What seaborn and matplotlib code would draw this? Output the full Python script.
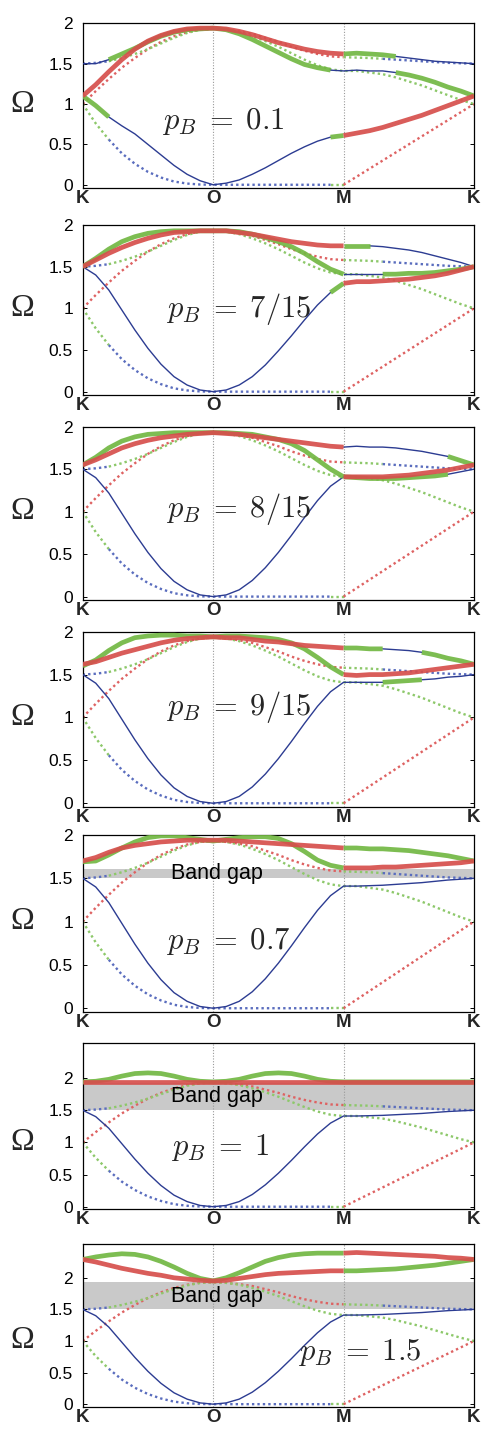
import numpy as np
import matplotlib
matplotlib.use("Agg")
import matplotlib.pyplot as plt
import matplotlib.transforms as mtransforms
import seaborn as sns

# ── k-path (K -> O -> M -> K) ───────────────────────────────────
K_PATH = np.array([0.0, 0.1, 0.2, 0.3, 0.4, 0.5, 0.6, 0.7, 0.8, 0.9, 1.0,
                   1.1, 1.2, 1.3, 1.4, 1.5, 1.6, 1.7, 1.8, 1.9, 2.0,
                   2.1, 2.2, 2.3, 2.4, 2.5, 2.6, 2.7, 2.8, 2.9, 3.0])
TICK_POS = [0, 1, 2, 3]
TICK_LABELS = ["K", "O", "M", "K"]
Y_TICKS = [0, 0.5, 1, 1.5, 2]
Y_TICK_LABELS = ["0", "0.5", "1", "1.5", "2"]

# ── free (dotted) bands, same in every panel ─────────────────────
FREE_LOW = [1.0, 0.76, 0.56, 0.39, 0.26, 0.16, 0.09, 0.04, 0.015, 0.003, 0.0,
            0.0, 0.0, 0.0, 0.0, 0.0, 0.0, 0.0, 0.0, 0.0, 0.0,
            0.1, 0.2, 0.3, 0.4, 0.5, 0.6, 0.7, 0.8, 0.9, 1.0]
FREE_LOW_RUNS = [("g", 0.0, 0.2), ("b", 0.2, 1.9), ("g", 1.9, 2.0), ("r", 2.0, 3.0)]
FREE_MID = [1.0, 1.16, 1.31, 1.45, 1.57, 1.68, 1.77, 1.84, 1.89, 1.92, 1.93,
            1.92, 1.90, 1.87, 1.82, 1.77, 1.71, 1.66, 1.62, 1.59, 1.58,
            1.575, 1.57, 1.56, 1.55, 1.54, 1.53, 1.52, 1.51, 1.505, 1.5]
FREE_MID_RUNS = [("r", 0.0, 2.0), ("g", 2.0, 2.3), ("b", 2.3, 3.0)]
FREE_TOP = [1.5, 1.51, 1.53, 1.57, 1.62, 1.68, 1.75, 1.82, 1.88, 1.92, 1.93,
            1.92, 1.89, 1.84, 1.78, 1.71, 1.63, 1.55, 1.48, 1.43, 1.41,
            1.41, 1.39, 1.37, 1.33, 1.28, 1.23, 1.17, 1.11, 1.05, 1.0]
FREE_TOP_RUNS = [("b", 0.0, 0.2), ("g", 0.2, 3.0)]

# shared pieces of the lowest solid band
LOW_KO = [1.5, 1.4, 1.22, 0.98, 0.74, 0.52, 0.33, 0.18, 0.08, 0.02, 0.0]
LOW_OM = [0.02, 0.08, 0.19, 0.34, 0.52, 0.72, 0.93, 1.13, 1.3, 1.41]
LOW_MK = [1.41, 1.415, 1.42, 1.43, 1.44, 1.45, 1.465, 1.48, 1.49, 1.5]

# ── p_B = 0.1 ────────────────────────────────────────────────────
P1_A = [1.1, 0.98, 0.84, 0.73, 0.63, 0.5, 0.37, 0.24, 0.13, 0.05, 0.0,
        0.02, 0.06, 0.13, 0.21, 0.3, 0.39, 0.47, 0.54, 0.59, 0.61,
        0.64, 0.67, 0.71, 0.76, 0.81, 0.86, 0.92, 0.98, 1.04, 1.1]
P1_A_RUNS = [("g", 0.0, 0.2), ("b", 0.2, 1.9), ("g", 1.9, 2.0), ("r", 2.0, 3.0)]
P1_B = [1.1, 1.24, 1.40, 1.55, 1.68, 1.78, 1.85, 1.9, 1.93, 1.94, 1.94,
        1.93, 1.9, 1.86, 1.81, 1.76, 1.72, 1.68, 1.65, 1.63, 1.62,
        1.63, 1.62, 1.61, 1.59, 1.57, 1.55, 1.53, 1.52, 1.51, 1.5]
P1_B_RUNS = [("r", 0.0, 2.0), ("g", 2.0, 2.4), ("b", 2.4, 3.0)]
P1_C = [1.5, 1.5, 1.55, 1.62, 1.69, 1.77, 1.84, 1.89, 1.92, 1.93, 1.94,
        1.92, 1.87, 1.8, 1.72, 1.64, 1.56, 1.49, 1.45, 1.42, 1.41,
        1.42, 1.41, 1.41, 1.39, 1.36, 1.32, 1.27, 1.21, 1.16, 1.1]
P1_C_RUNS = [("b", 0.0, 0.2), ("g", 0.2, 1.9), ("b", 1.9, 2.4), ("g", 2.4, 3.0)]

# ── p_B = 7/15 ───────────────────────────────────────────────────
P2_A = LOW_KO + [0.02, 0.08, 0.18, 0.32, 0.49, 0.67, 0.86, 1.04, 1.19, 1.3,
                 1.32, 1.32, 1.33, 1.34, 1.35, 1.37, 1.39, 1.42, 1.46, 1.5]
P2_A_RUNS = [("b", 0.0, 1.9), ("g", 1.9, 2.0), ("r", 2.0, 3.0)]
P2_B = [1.5, 1.58, 1.66, 1.73, 1.79, 1.84, 1.88, 1.91, 1.92, 1.93, 1.93,
        1.93, 1.91, 1.89, 1.86, 1.83, 1.8, 1.78, 1.76, 1.75, 1.75,
        1.75, 1.75, 1.74, 1.72, 1.7, 1.67, 1.63, 1.59, 1.55, 1.5]
P2_B_RUNS = [("r", 0.0, 2.0), ("g", 2.0, 2.2), ("b", 2.2, 3.0)]
P2_C = [1.5, 1.6, 1.71, 1.8, 1.86, 1.9, 1.92, 1.93, 1.93, 1.93, 1.93,
        1.93, 1.92, 1.89, 1.85, 1.8, 1.74, 1.66, 1.56, 1.47, 1.41,
        1.41, 1.41, 1.41, 1.41, 1.42, 1.42, 1.43, 1.45, 1.47, 1.5]
P2_C_RUNS = [("g", 0.0, 2.0), ("b", 2.0, 2.3), ("g", 2.3, 3.0)]

# ── p_B = 8/15 ───────────────────────────────────────────────────
P3_A = LOW_KO + LOW_OM + [1.4, 1.39, 1.39, 1.39, 1.4, 1.41, 1.42, 1.44, 1.47, 1.5]
P3_A_RUNS = [("b", 0.0, 2.0), ("g", 2.0, 2.8), ("b", 2.8, 3.0)]
P3_B = [1.55, 1.61, 1.68, 1.75, 1.8, 1.84, 1.87, 1.89, 1.91, 1.92, 1.93,
        1.92, 1.91, 1.89, 1.87, 1.85, 1.83, 1.81, 1.79, 1.77, 1.76,
        1.77, 1.76, 1.76, 1.75, 1.73, 1.71, 1.68, 1.65, 1.6, 1.55]
P3_B_RUNS = [("r", 0.0, 2.0), ("b", 2.0, 2.8), ("g", 2.8, 3.0)]
P3_C = [1.55, 1.64, 1.75, 1.83, 1.88, 1.91, 1.92, 1.93, 1.93, 1.93, 1.93,
        1.93, 1.92, 1.91, 1.88, 1.85, 1.8, 1.72, 1.61, 1.5, 1.41,
        1.41, 1.41, 1.41, 1.42, 1.43, 1.45, 1.47, 1.49, 1.52, 1.55]
P3_C_RUNS = [("g", 0.0, 2.0), ("r", 2.0, 3.0)]

# ── p_B = 9/15 ───────────────────────────────────────────────────
P4_A = LOW_KO + LOW_OM + [1.41, 1.41, 1.41, 1.42, 1.43, 1.44, 1.45, 1.47, 1.48, 1.5]
P4_A_RUNS = [("b", 0.0, 2.3), ("g", 2.3, 2.6), ("b", 2.6, 3.0)]
P4_B = [1.62, 1.65, 1.7, 1.75, 1.79, 1.83, 1.87, 1.9, 1.92, 1.93, 1.94,
        1.93, 1.93, 1.91, 1.89, 1.88, 1.86, 1.84, 1.83, 1.82, 1.81,
        1.81, 1.8, 1.8, 1.79, 1.78, 1.76, 1.73, 1.69, 1.66, 1.62]
P4_B_RUNS = [("r", 0.0, 2.0), ("g", 2.0, 2.3), ("b", 2.3, 2.6), ("g", 2.6, 3.0)]
P4_C = [1.6, 1.67, 1.78, 1.87, 1.93, 1.95, 1.96, 1.96, 1.95, 1.95, 1.94,
        1.95, 1.95, 1.94, 1.93, 1.91, 1.87, 1.8, 1.7, 1.59, 1.5,
        1.49, 1.5, 1.5, 1.51, 1.52, 1.54, 1.56, 1.58, 1.6, 1.62]
P4_C_RUNS = [("g", 0.0, 2.0), ("r", 2.0, 3.0)]

# ── p_B = 0.7 ────────────────────────────────────────────────────
P5_A = LOW_KO + LOW_OM + LOW_MK
P5_A_RUNS = [("b", 0.0, 3.0)]
P5_B = [1.7, 1.74, 1.8, 1.85, 1.88, 1.9, 1.92, 1.93, 1.94, 1.94, 1.94,
        1.94, 1.93, 1.92, 1.91, 1.9, 1.89, 1.88, 1.87, 1.86, 1.85,
        1.85, 1.84, 1.84, 1.83, 1.82, 1.8, 1.78, 1.76, 1.73, 1.7]
P5_B_RUNS = [("r", 0.0, 2.0), ("g", 2.0, 3.0)]
P5_C = [1.69, 1.7, 1.77, 1.85, 1.92, 1.97, 1.99, 1.99, 1.97, 1.95, 1.93,
        1.95, 1.97, 1.98, 1.98, 1.96, 1.9, 1.81, 1.71, 1.65, 1.62,
        1.62, 1.62, 1.63, 1.63, 1.64, 1.65, 1.66, 1.67, 1.68, 1.7]
P5_C_RUNS = [("g", 0.0, 2.0), ("r", 2.0, 3.0)]

# ── p_B = 1 ──────────────────────────────────────────────────────
P6_A = LOW_KO + LOW_OM + LOW_MK
P6_A_RUNS = [("b", 0.0, 3.0)]
P6_B = [1.94, 1.94, 1.94, 1.94, 1.94, 1.94, 1.94, 1.94, 1.94, 1.94, 1.94,
        1.94, 1.94, 1.94, 1.94, 1.94, 1.94, 1.94, 1.94, 1.94, 1.94,
        1.94, 1.94, 1.94, 1.94, 1.94, 1.94, 1.94, 1.94, 1.94, 1.94]
P6_B_RUNS = [("r", 0.0, 3.0)]
P6_C = [1.94, 1.95, 1.98, 2.03, 2.07, 2.08, 2.07, 2.03, 1.98, 1.95, 1.94,
        1.95, 1.98, 2.03, 2.07, 2.08, 2.07, 2.03, 1.98, 1.95, 1.94,
        1.94, 1.94, 1.94, 1.94, 1.94, 1.94, 1.94, 1.94, 1.94, 1.94]
P6_C_RUNS = [("g", 0.0, 3.0)]

# ── p_B = 1.5 ────────────────────────────────────────────────────
P7_A = LOW_KO + LOW_OM + LOW_MK
P7_A_RUNS = [("b", 0.0, 3.0)]
P7_B = [2.29, 2.25, 2.2, 2.15, 2.11, 2.07, 2.04, 2.0, 1.98, 1.96, 1.95,
        1.96, 1.99, 2.02, 2.05, 2.07, 2.08, 2.09, 2.1, 2.11, 2.11,
        2.11, 2.12, 2.13, 2.14, 2.16, 2.18, 2.2, 2.23, 2.26, 2.29]
P7_B_RUNS = [("r", 0.0, 2.0), ("g", 2.0, 3.0)]
P7_C = [2.29, 2.33, 2.36, 2.38, 2.37, 2.33, 2.26, 2.17, 2.07, 1.99, 1.95,
        2.0, 2.08, 2.17, 2.26, 2.32, 2.36, 2.38, 2.39, 2.39, 2.39,
        2.4, 2.39, 2.38, 2.37, 2.36, 2.35, 2.34, 2.32, 2.31, 2.29]
P7_C_RUNS = [("g", 0.0, 2.0), ("r", 2.0, 3.0)]

# panel annotations
PB_LABELS = [r"$p_B\;=\;0.1$", r"$p_B\;=\;7/15$", r"$p_B\;=\;8/15$",
             r"$p_B\;=\;9/15$", r"$p_B\;=\;0.7$", r"$p_B\;=\;1$",
             r"$p_B\;=\;1.5$"]
GAPS = [None, None, None, None, (1.50, 1.61), (1.50, 1.92), (1.50, 1.94)]

# ── style ────────────────────────────────────────────────────────
SOLID = {"b": "#2c3c92", "g": "#72b843", "r": "#d64f4c"}
DOTTED = {"b": "#5a6dbe", "g": "#8dc86a", "r": "#de6262"}
FIG_W, FIG_H = 483, 1429
AX_LEFT, AX_RIGHT = 82.7, 474.0
# (top px, bottom px, ymax, label x, label y, gap text y)
PANEL_GEOM = [
    (23.3, 188.0, 2.00, 0.61, 0.78, None),
    (225.0, 395.0, 2.00, 0.64, 0.99, None),
    (426.7, 600.0, 2.00, 0.64, 1.03, None),
    (631.7, 806.7, 2.00, 0.64, 1.12, None),
    (835.0, 1011.7, 2.00, 0.64, 0.77, 1.56),
    (1043.3, 1209.3, 2.54, 0.68, 0.92, 1.71),
    (1244.3, 1406.7, 2.53, 1.65, 0.82, 1.71),
]
PANELS = [
    [(P1_A, P1_A_RUNS), (P1_B, P1_B_RUNS), (P1_C, P1_C_RUNS)],
    [(P2_A, P2_A_RUNS), (P2_B, P2_B_RUNS), (P2_C, P2_C_RUNS)],
    [(P3_A, P3_A_RUNS), (P3_B, P3_B_RUNS), (P3_C, P3_C_RUNS)],
    [(P4_A, P4_A_RUNS), (P4_B, P4_B_RUNS), (P4_C, P4_C_RUNS)],
    [(P5_A, P5_A_RUNS), (P5_B, P5_B_RUNS), (P5_C, P5_C_RUNS)],
    [(P6_A, P6_A_RUNS), (P6_B, P6_B_RUNS), (P6_C, P6_C_RUNS)],
    [(P7_A, P7_A_RUNS), (P7_B, P7_B_RUNS), (P7_C, P7_C_RUNS)],
]
FREE = [(FREE_LOW, FREE_LOW_RUNS), (FREE_MID, FREE_MID_RUNS), (FREE_TOP, FREE_TOP_RUNS)]

sns.set_theme(style="ticks")
plt.rcParams["font.family"] = ["Liberation Sans", "DejaVu Sans"]
plt.rcParams["mathtext.fontset"] = "cm"


def draw_runs(ax, values, runs, dotted=False):
    values = np.asarray(values, dtype=float)
    for key, a, b in runs:
        mask = (K_PATH >= a - 1e-6) & (K_PATH <= b + 1e-6)
        if dotted:
            sns.lineplot(x=K_PATH[mask], y=values[mask], ax=ax, color=DOTTED[key],
                         lw=1.7, linestyle=(0, (1.0, 1.3)), sort=False,
                         estimator=None, legend=False, zorder=2)
        elif key == "b":
            sns.lineplot(x=K_PATH[mask], y=values[mask], ax=ax, color=SOLID[key],
                         lw=1.0, sort=False, estimator=None, legend=False, zorder=3)
        else:
            sns.lineplot(x=K_PATH[mask], y=values[mask], ax=ax, color=SOLID[key],
                         lw=3.4, alpha=0.92, solid_capstyle="butt",
                         solid_joinstyle="round", sort=False,
                         estimator=None, legend=False,
                         zorder=5 if key == "r" else 4)


fig = plt.figure(figsize=(FIG_W / 100, FIG_H / 100), dpi=100)
fig.patch.set_facecolor("white")

for i, (top, bot, ymax, lx, ly, gy) in enumerate(PANEL_GEOM):
    ax = fig.add_axes([AX_LEFT / FIG_W, 1 - bot / FIG_H,
                       (AX_RIGHT - AX_LEFT) / FIG_W, (bot - top) / FIG_H])
    ax.set_facecolor("white")
    ax.set_xlim(0, 3)
    ax.set_ylim(-0.04, ymax)

    if GAPS[i] is not None:
        ax.axhspan(GAPS[i][0], GAPS[i][1], color="#c9c9c9", lw=0, zorder=0.5)
        ax.text(1.03, gy, "Band gap", ha="center", va="center", fontsize=15.5,
                color="black", zorder=6)

    for xv in (1, 2):
        ax.axvline(xv, color="#9a9a9a", lw=0.8, ls=(0, (1, 1.5)), zorder=1)

    for vals, runs in FREE:
        draw_runs(ax, vals, runs, dotted=True)
    # blue first, then green, red on top
    for key in ("b", "g", "r"):
        for vals, runs in PANELS[i]:
            draw_runs(ax, vals, [r for r in runs if r[0] == key])

    ax.text(lx, ly, PB_LABELS[i], ha="left", va="center", fontsize=22, zorder=7)

    trans = mtransforms.blended_transform_factory(ax.transAxes, ax.transData)
    ax.text(-0.155, 1.0, "Ω", transform=trans, ha="center", va="center",
            fontsize=23, family=["Liberation Serif", "DejaVu Serif"])

    ax.set_xticks(TICK_POS)
    ax.set_xticklabels(TICK_LABELS, fontweight="bold", fontsize=13.5)
    ax.set_yticks(Y_TICKS)
    ax.set_yticklabels(Y_TICK_LABELS, fontsize=12.5)
    ax.tick_params(axis="x", length=0, pad=1.5)
    ax.tick_params(axis="y", direction="in", length=3, width=0.7, pad=7,
                   right=True, colors="black")
    ax.set_xlabel("")
    ax.set_ylabel("")
    for sp in ax.spines.values():
        sp.set_visible(True)
        sp.set_color("black")
        sp.set_linewidth(0.9)

fig.savefig("out.png", dpi=100, facecolor="white")
